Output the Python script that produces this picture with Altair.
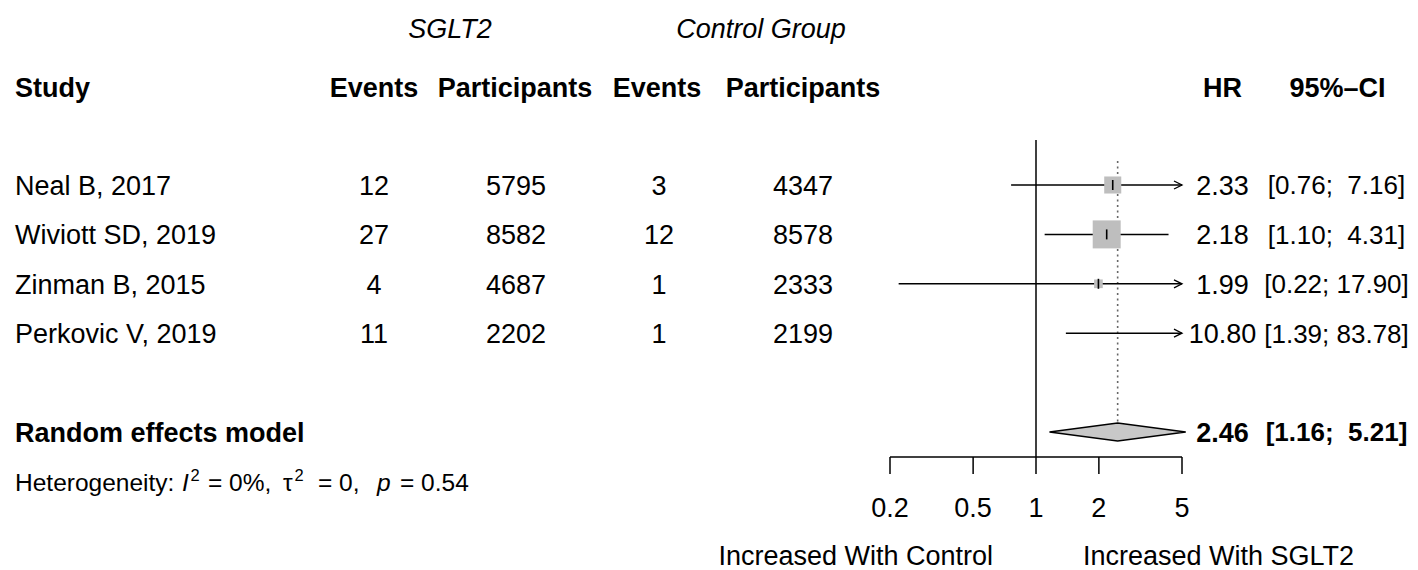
import altair as alt
import pandas as pd

# ---------------- data ----------------
studies = ["Neal B, 2017", "Wiviott SD, 2019", "Zinman B, 2015", "Perkovic V, 2019"]
events_sglt2 = [12, 27, 4, 11]
participants_sglt2 = [5795, 8582, 4687, 2202]
events_control = [3, 12, 1, 1]
participants_control = [4347, 8578, 2333, 2199]
hr = [2.33, 2.18, 1.99, 10.80]
ci_lower = [0.76, 1.10, 0.22, 1.39]
ci_upper = [7.16, 4.31, 17.90, 83.78]
weight = [23.5, 63.4, 6.1, 7.0]          # % weight (square area)
row = [0, 1, 2, 3]

pooled_label = "Random effects model"
pooled_hr = 2.46
pooled_lower = 1.16
pooled_upper = 5.21
pooled_row = 5

group_labels = ["SGLT2", "Control Group"]
column_labels = ["Study", "Events", "Participants", "Events", "Participants", "HR", "95%\u2013CI"]
tick_values = [0.2, 0.5, 1, 2, 5]
tick_labels = ["0.2", "0.5", "1", "2", "5"]
side_labels = ["Increased With Control", "Increased With SGLT2"]
het_parts = ["Heterogeneity:", "I", "2", "= 0%,", "\u03c4", "2", "= 0,", "p", "= 0.54"]

x_clip = 5.0
null_value = 1

# ---------------- helpers ----------------
FONT = "Liberation Sans"
FS = 27
DY = 9.7  # baseline offset to vertically centre cap height


def P(v):
    """page pixel -> chart pixel (8px page margin)"""
    return v - 8


xs = alt.Scale(type="log", domain=[0.2, 5], range=[P(890), P(1182)], nice=False)
ys = alt.Scale(type="linear", domain=[0, 5], range=[P(185), P(432)], nice=False, zero=False)


def fmt_ci(lo, up):
    return "[" + f"{lo:.2f}" + ";" + (" \u00a0" if up < 10 else " ") + f"{up:.2f}" + "]"


df = pd.DataFrame({
    "study": studies,
    "ev1": [str(v) for v in events_sglt2],
    "n1": [str(v) for v in participants_sglt2],
    "ev2": [str(v) for v in events_control],
    "n2": [str(v) for v in participants_control],
    "hr": hr,
    "lo": ci_lower,
    "up": ci_upper,
    "weight": weight,
    "row": row,
})
df["hr_txt"] = [f"{v:.2f}" for v in hr]
df["ci_txt"] = [fmt_ci(l, u) for l, u in zip(ci_lower, ci_upper)]

pooled = pd.DataFrame({
    "label": [pooled_label],
    "hr": [pooled_hr],
    "lo": [pooled_lower],
    "up": [pooled_upper],
    "row": [pooled_row],
    "hr_txt": [f"{pooled_hr:.2f}"],
    "ci_txt": [fmt_ci(pooled_lower, pooled_upper)],
})

layers = []


def col_text(data, field, xpx, align="center", bold=False, size=FS):
    return alt.Chart(data).mark_text(
        font=FONT, fontSize=size, align=align, baseline="alphabetic", dy=DY * size / FS,
        fontWeight="bold" if bold else "normal", color="black",
    ).encode(
        text=f"{field}:N",
        x=alt.value(P(xpx)),
        y=alt.Y("row:Q", scale=ys, axis=None),
    )


def label_text(txt, xpx, ypx, align="center", bold=False, italic=False, size=FS):
    return alt.Chart(pd.DataFrame({"t": [txt]})).mark_text(
        font=FONT, fontSize=size, align=align, baseline="alphabetic",
        fontWeight="bold" if bold else "normal",
        fontStyle="italic" if italic else "normal", color="black",
    ).encode(text="t:N", x=alt.value(P(xpx)), y=alt.value(P(ypx)))


CI_X = 1336.5
CI_FS = 26
HR_X = 1222.5

# group labels and column headers
layers.append(label_text(group_labels[0], 450, 38, italic=True))
layers.append(label_text(group_labels[1], 761, 38, italic=True))
hdr_x = [15, 374, 515, 657, 803, HR_X, CI_X + 1]
hdr_align = ["left"] + ["center"] * 6
for lab, xx, al in zip(column_labels, hdr_x, hdr_align):
    layers.append(label_text(lab, xx, 97, align=al, bold=True))

# study rows text
layers.append(col_text(df, "study", 15, align="left"))
layers.append(col_text(df, "ev1", 374))
layers.append(col_text(df, "n1", 516))
layers.append(col_text(df, "ev2", 659))
layers.append(col_text(df, "n2", 803))
layers.append(col_text(df, "hr_txt", HR_X))
layers.append(col_text(df, "ci_txt", CI_X, size=CI_FS))

# pooled row text
layers.append(col_text(pooled, "label", 15, align="left", bold=True))
layers.append(col_text(pooled, "hr_txt", HR_X, bold=True))
layers.append(col_text(pooled, "ci_txt", CI_X, bold=True, size=CI_FS))

# heterogeneity line
HS, SS = 24.5, 16.5
het_x = [15, 182, 190.5, 208, 283, 294.5, 318, 377, 400]
het_dy = [0, 0, -10, 0, 0, -10, 0, 0, 0]
het_size = [HS, HS, SS, HS, HS, SS, HS, HS, HS]
het_it = [False, True, False, False, False, False, False, True, False]
for t, xx, d, s, it in zip(het_parts, het_x, het_dy, het_size, het_it):
    layers.append(label_text(t, xx, 491 + d, align="left", italic=it, size=s))

# reference line at null
ref = pd.DataFrame({"v": [null_value]})
layers.append(alt.Chart(ref).mark_rule(color="black", strokeWidth=1.5).encode(
    x=alt.X("v:Q", scale=xs, axis=None), y=alt.value(P(140)), y2=alt.value(P(457))))

# dotted line at pooled estimate
layers.append(alt.Chart(pooled).mark_rule(color="#666666", strokeWidth=1.6, strokeDash=[2, 3.5]).encode(
    x=alt.X("hr:Q", scale=xs, axis=None), y=alt.value(P(161)), y2=alt.value(P(423))))

# CI lines (clipped at x_clip)
base = alt.Chart(df).transform_calculate(upc=f"min(datum.up, {x_clip})")
layers.append(base.mark_rule(color="black", strokeWidth=1.5).encode(
    x=alt.X("lo:Q", scale=xs, axis=None), x2="upc:Q",
    y=alt.Y("row:Q", scale=ys, axis=None)))

# arrow heads for clipped CIs
layers.append(base.transform_filter(f"datum.up > {x_clip}").mark_point(
    shape="M-1,-0.5L0,0L-1,0.5", filled=False, color="black", strokeWidth=1.3, size=256, opacity=1
).encode(x=alt.X("upc:Q", scale=xs, axis=None), y=alt.Y("row:Q", scale=ys, axis=None)))

# weight squares
layers.append(alt.Chart(df).transform_filter(f"datum.hr <= {x_clip}").mark_square(
    color="#bebebe", opacity=1).encode(
    x=alt.X("hr:Q", scale=xs, axis=None), y=alt.Y("row:Q", scale=ys, axis=None),
    size=alt.Size("weight:Q", scale=alt.Scale(domain=[0, 100], range=[0, 1236]), legend=None)))

# point-estimate tick
layers.append(alt.Chart(df).transform_filter(f"datum.hr <= {x_clip}").mark_tick(
    orient="vertical", color="black", size=10, thickness=1.6, opacity=1).encode(
    x=alt.X("hr:Q", scale=xs, axis=None), y=alt.Y("row:Q", scale=ys, axis=None)))

# diamond for pooled estimate
dia = pd.DataFrame({
    "x": [pooled_lower, pooled_hr, pooled_upper],
    "half": [0.0, 1.0, 0.0],
})
layers.append(alt.Chart(dia).transform_calculate(
    y1=f"{pooled_row} - datum.half * 0.182", y2=f"{pooled_row} + datum.half * 0.182"
).mark_area(color="#c8c8c8", stroke="black", strokeWidth=1.3, opacity=1, interpolate="linear").encode(
    x=alt.X("x:Q", scale=xs, axis=None),
    y=alt.Y("y1:Q", scale=ys, axis=None), y2="y2:Q"))

# x axis (drawn through the x scale)
axdf = pd.DataFrame({"v": tick_values, "lab": tick_labels})
layers.append(alt.Chart(pd.DataFrame({"a": [tick_values[0]], "b": [tick_values[-1]]})).mark_rule(
    color="black", strokeWidth=1.5).encode(
    x=alt.X("a:Q", scale=xs, axis=None), x2="b:Q", y=alt.value(P(457))))
layers.append(alt.Chart(axdf).mark_rule(color="black", strokeWidth=1.5).encode(
    x=alt.X("v:Q", scale=xs, axis=None), y=alt.value(P(457)), y2=alt.value(P(474))))
layers.append(alt.Chart(axdf).mark_text(font=FONT, fontSize=FS, baseline="alphabetic", color="black").encode(
    x=alt.X("v:Q", scale=xs, axis=None), y=alt.value(P(517)), text="lab:N"))

# side labels
layers.append(label_text(side_labels[0], 993, 565, align="right"))
layers.append(label_text(side_labels[1], 1083, 565, align="left"))

chart = alt.layer(*layers).properties(
    width=1402, height=562, padding=0,
    autosize=alt.AutoSizeParams(type="none"),
).configure_view(stroke=None)

chart.save("out.html", embed_options={"renderer": "svg", "actions": False})
